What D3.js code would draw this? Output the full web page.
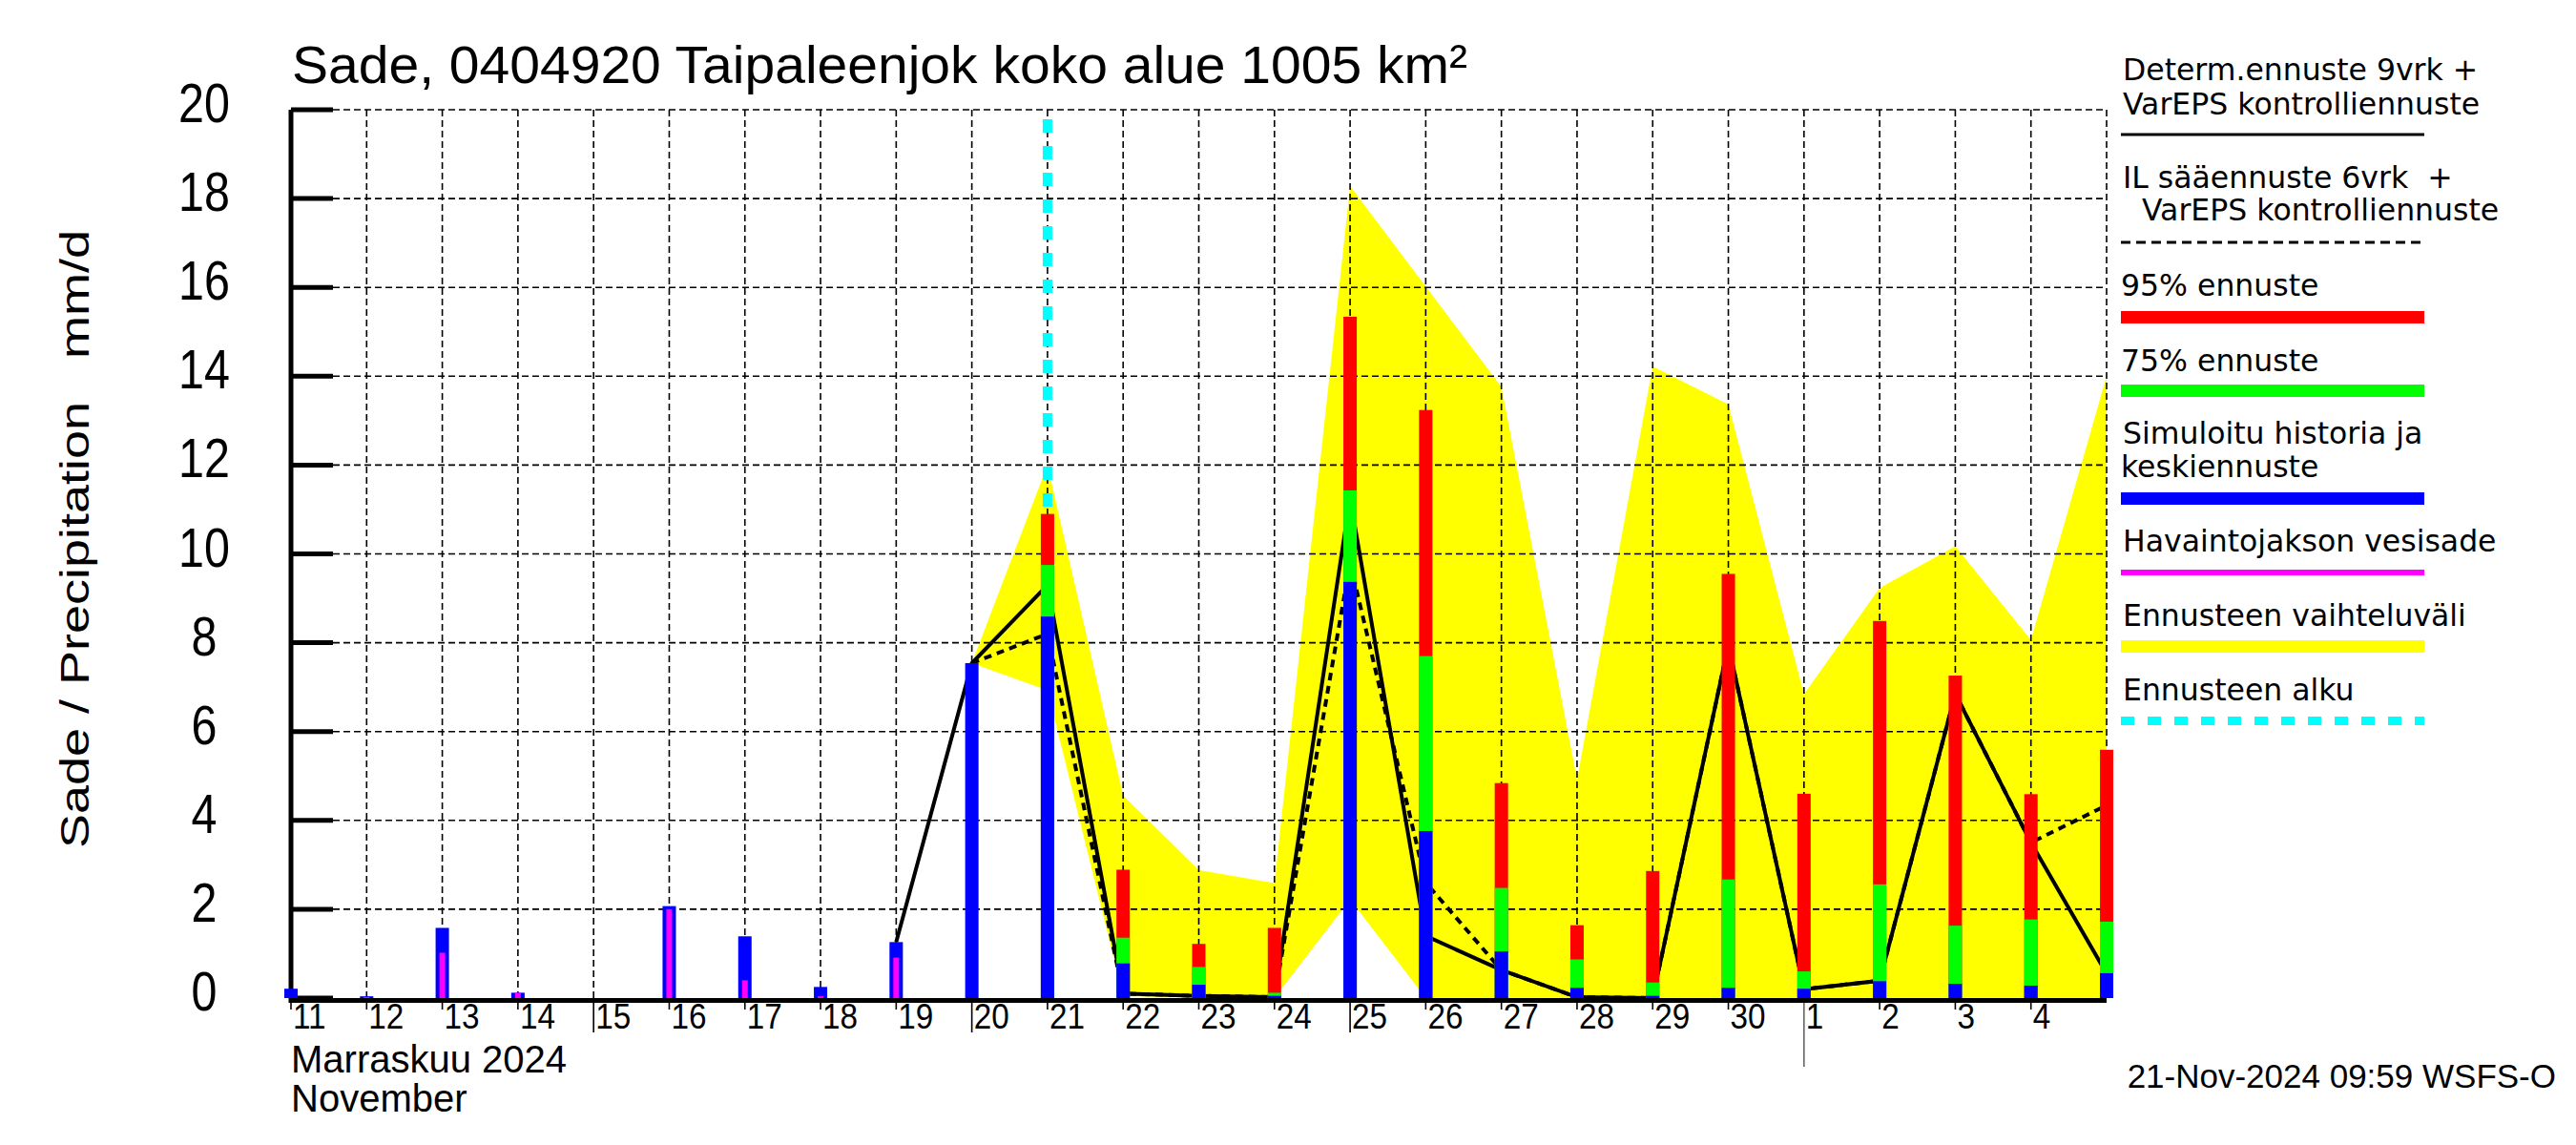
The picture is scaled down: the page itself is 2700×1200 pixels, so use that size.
<!DOCTYPE html>
<html>
<head>
<meta charset="utf-8">
<script src="https://cdn.jsdelivr.net/npm/d3@7"></script>
<style>
body { margin: 0; background: #fff; }
</style>
</head>
<body>
<div class="container"></div>
<script>
// day labels, Nov 11 .. Dec 4 (index 0 = 11.11.)
var dayLabels = ["11","12","13","14","15","16","17","18","19","20","21","22","23","24","25","26","27","28","29","30","1","2","3","4"];
var yTicks = [0, 2, 4, 6, 8, 10, 12, 14, 16, 18, 20];

// simulated history + mean forecast (blue), Nov 11 .. Dec 5
var simulated = [0.21, 0.04, 1.58, 0.12, 0, 2.07, 1.39, 0.25, 1.26, 7.54, 8.59, 0.78, 0.3, 0.05, 9.37, 3.76, 1.05, 0.23, 0.05, 0.23, 0.21, 0.38, 0.32, 0.28, 0.56];
// observed precipitation (magenta), Nov 11 .. Nov 20
var observed = [0, 0.02, 1.02, 0.12, 0, 2.0, 0.4, 0.04, 0.91, 0];
// 75% and 95% forecasts, Nov 21 .. Dec 5
var p75 = [9.75, 1.36, 0.7, 0.12, 11.43, 7.7, 2.48, 0.87, 0.35, 2.67, 0.6, 2.56, 1.63, 1.77, 1.72];
var p95 = [10.9, 2.89, 1.22, 1.58, 15.34, 13.24, 4.84, 1.64, 2.86, 9.55, 4.6, 8.49, 7.26, 4.59, 5.59];
// forecast range (yellow), Nov 20 .. Dec 5
var rangeHigh = [7.54, 12.0, 4.56, 2.88, 2.59, 18.28, 16.02, 13.76, 4.92, 14.22, 13.37, 6.84, 9.23, 10.17, 8.06, 14.0];
var rangeLow = [7.54, 6.93, 0.05, 0, 0, 2.22, 0, 0, 0, 0, 0, 0, 0, 0, 0, 0];
// deterministic forecast (solid), Nov 19 .. Dec 5
var determ = [1.26, 7.54, 9.3, 0.1, 0.05, 0.02, 11.25, 1.4, 0.63, 0.02, 0.0, 7.95, 0.2, 0.39, 6.85, 3.5, 0.55];
// IL forecast (dashed), Nov 20 .. Dec 5
var ilForecast = [7.54, 8.2, 0.1, 0.05, 0.02, 9.8, 2.6, 0.63, 0.02, 0.0, 7.95, 0.2, 0.39, 6.85, 3.5, 4.34];

var obsStart = 0, fcStart = 10, rangeStart = 9, determStart = 8, ilStart = 9;
var longTicks = [4, 9, 14];   // 15., 20., 25.
var monthTick = 20;           // 1.12.

var W = 2700, H = 1200;
var plot = { left: 305, right: 2208, top: 115, bottom: 1046 };

var svg = d3.select(".container").append("svg")
  .attr("width", W).attr("height", H)
  .style("background", "#fff");

var x = d3.scaleLinear().domain([0, 24]).range([plot.left, plot.right]);
var y = d3.scaleLinear().domain([0, 20]).range([plot.bottom, plot.top]);

// condensed text helper
function ctext(g, str, tx, ty, size, sx, anchor) {
  return g.append("text")
    .attr("transform", "translate(" + tx + "," + ty + ") scale(" + sx + ",1)")
    .attr("text-anchor", anchor || "start")
    .style("font-family", "'Liberation Sans', Arial, sans-serif")
    .style("font-size", size + "px")
    .text(str);
}

// yellow range
var area = d3.area()
  .x(function (d, i) { return x(rangeStart + i); })
  .y0(function (d, i) { return y(rangeLow[i]); })
  .y1(function (d) { return y(d); });
svg.append("path").datum(rangeHigh).attr("d", area).attr("fill", "#ffff00");

// grid
var grid = svg.append("g").attr("stroke", "#000").attr("stroke-width", 1.6).attr("stroke-dasharray", "7,4");
grid.selectAll("line.h").data(yTicks.filter(function (d) { return d > 0; })).enter().append("line")
  .attr("x1", plot.left).attr("x2", plot.right)
  .attr("y1", function (d) { return y(d); }).attr("y2", function (d) { return y(d); });
grid.selectAll("line.v").data(d3.range(1, 25)).enter().append("line")
  .attr("x1", function (d) { return x(d); }).attr("x2", function (d) { return x(d); })
  .attr("y1", plot.top).attr("y2", plot.bottom);

// forecast start
svg.append("line")
  .attr("x1", x(fcStart)).attr("x2", x(fcStart))
  .attr("y1", plot.top + 10).attr("y2", plot.bottom)
  .attr("stroke", "#00ffff").attr("stroke-width", 10).attr("stroke-dasharray", "14,14");

// lines
var line = d3.line().x(function (d) { return x(d.i); }).y(function (d) { return y(d.v); });
svg.append("path")
  .datum(ilForecast.map(function (v, i) { return { i: ilStart + i, v: v }; }))
  .attr("d", line).attr("fill", "none").attr("stroke", "#000")
  .attr("stroke-width", 4).attr("stroke-dasharray", "8,6");
svg.append("path")
  .datum(determ.map(function (v, i) { return { i: determStart + i, v: v }; }))
  .attr("d", line).attr("fill", "none").attr("stroke", "#000").attr("stroke-width", 4);

// axes
svg.append("line").attr("x1", plot.left).attr("x2", plot.left)
  .attr("y1", plot.top).attr("y2", plot.bottom + 5).attr("stroke", "#000").attr("stroke-width", 5);
svg.append("line").attr("x1", plot.left).attr("x2", plot.right)
  .attr("y1", plot.bottom + 2.5).attr("y2", plot.bottom + 2.5).attr("stroke", "#000").attr("stroke-width", 5);
svg.selectAll("line.ytick").data(yTicks).enter().append("line")
  .attr("x1", plot.left).attr("x2", plot.left + 44)
  .attr("y1", function (d) { return y(d); }).attr("y2", function (d) { return y(d); })
  .attr("stroke", "#000").attr("stroke-width", 5);
svg.selectAll("line.xtick").data(d3.range(0, 24)).enter().append("line")
  .attr("x1", function (d) { return x(d); }).attr("x2", function (d) { return x(d); })
  .attr("y1", plot.bottom + 5)
  .attr("y2", function (d) { return d === monthTick ? 1118 : (longTicks.indexOf(d) >= 0 ? 1082 : 1058); })
  .attr("stroke", function (d) { return d === monthTick ? "#666" : "#000"; })
  .attr("stroke-width", 1.6);

// bars
var bars = svg.append("g");
var bw = 14;
function bar(i, v, color, w) {
  if (!(v > 0)) return;
  bars.append("rect")
    .attr("x", x(i) - w / 2).attr("width", w)
    .attr("y", y(v)).attr("height", y(0) - y(v))
    .attr("fill", color);
}
simulated.forEach(function (v, i) {
  if (i >= fcStart) {
    bar(i, p95[i - fcStart], "#ff0000", bw);
    bar(i, p75[i - fcStart], "#00ff00", bw);
  }
  bar(i, v, "#0000ff", bw);
});
observed.forEach(function (v, i) { bar(obsStart + i, v, "#ff00ff", 6); });

// y tick labels
yTicks.forEach(function (t) { ctext(svg, t, 214, y(t) + 13, 57, 0.85, "middle"); });

// x labels
dayLabels.forEach(function (d, i) { ctext(svg, d, x(i) + 2, 1078, 37, 0.9); });
ctext(svg, "Marraskuu 2024", 305, 1124, 40, 1.0);
ctext(svg, "November", 305, 1165, 40, 1.0);
ctext(svg, "21-Nov-2024 09:59 WSFS-O", 2679, 1140, 35, 1, "end");

// title
svg.append("text").attr("x", 306).attr("y", 87)
  .attr("textLength", 1232).attr("lengthAdjust", "spacingAndGlyphs")
  .style("font-family", "'Liberation Sans', Arial, sans-serif").style("font-size", "56px")
  .text("Sade, 0404920 Taipaleenjok koko alue 1005 km²");

// y axis label
svg.append("text")
  .attr("transform", "translate(93,565) rotate(-90)")
  .attr("text-anchor", "middle")
  .attr("textLength", 648).attr("lengthAdjust", "spacingAndGlyphs")
  .attr("xml:space", "preserve").style("white-space", "pre")
  .style("font-family", "'Liberation Sans', Arial, sans-serif").style("font-size", "42px")
  .text("Sade / Precipitation   mm/d");

// legend
var leg = svg.append("g").style("font-family", "'DejaVu Sans', sans-serif").style("font-size", "31.5px");
function ltext(str, tx, ty) {
  leg.append("text").attr("x", tx).attr("y", ty).attr("xml:space", "preserve").style("white-space", "pre").text(str);
}
var lx1 = 2223, lx2 = 2541;
ltext("Determ.ennuste 9vrk +", 2225, 84);
ltext("VarEPS kontrolliennuste", 2225, 120);
leg.append("line").attr("x1", lx1).attr("x2", lx2).attr("y1", 141).attr("y2", 141).attr("stroke", "#000").attr("stroke-width", 3);
ltext("IL sääennuste 6vrk  +", 2225, 197);
ltext("VarEPS kontrolliennuste", 2245, 231);
leg.append("line").attr("x1", lx1).attr("x2", lx2).attr("y1", 254).attr("y2", 254).attr("stroke", "#000").attr("stroke-width", 3).attr("stroke-dasharray", "10,6");
ltext("95% ennuste", 2223, 310);
leg.append("rect").attr("x", lx1).attr("width", lx2 - lx1).attr("y", 326).attr("height", 13).attr("fill", "#ff0000");
ltext("75% ennuste", 2223, 389);
leg.append("rect").attr("x", lx1).attr("width", lx2 - lx1).attr("y", 403).attr("height", 13).attr("fill", "#00ff00");
ltext("Simuloitu historia ja", 2225, 465);
ltext("keskiennuste", 2223, 500);
leg.append("rect").attr("x", lx1).attr("width", lx2 - lx1).attr("y", 516).attr("height", 13).attr("fill", "#0000ff");
ltext("Havaintojakson vesisade", 2225, 578);
leg.append("rect").attr("x", lx1).attr("width", lx2 - lx1).attr("y", 597).attr("height", 6).attr("fill", "#ff00ff");
ltext("Ennusteen vaihteluväli", 2225, 656);
leg.append("rect").attr("x", lx1).attr("width", lx2 - lx1).attr("y", 671).attr("height", 13).attr("fill", "#ffff00");
ltext("Ennusteen alku", 2225, 734);
leg.append("line").attr("x1", lx1).attr("x2", lx2).attr("y1", 755.5).attr("y2", 755.5).attr("stroke", "#00ffff").attr("stroke-width", 9).attr("stroke-dasharray", "14,14");
</script>
</body>
</html>
